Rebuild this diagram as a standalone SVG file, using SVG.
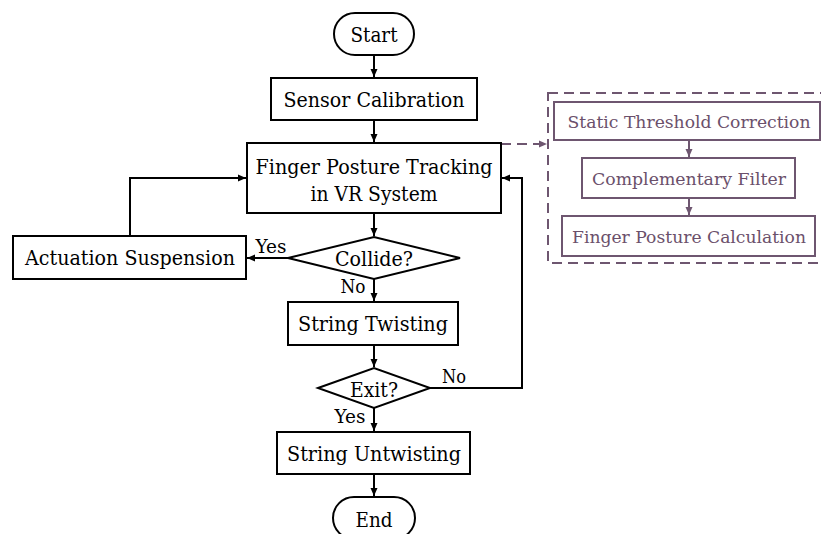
<svg xmlns="http://www.w3.org/2000/svg" width="821" height="534" viewBox="0 0 821 534">
<style>
.b{fill:#fff;stroke:#000;stroke-width:2}
.p{fill:#fff;stroke:#6e5670;stroke-width:2}
.t{font-family:"DejaVu Serif","Liberation Serif",serif;font-size:19.5px;fill:#000;text-anchor:middle}
.l{font-family:"DejaVu Serif","Liberation Serif",serif;font-size:18.5px;fill:#000;text-anchor:middle}
.tp{font-family:"DejaVu Serif","Liberation Serif",serif;font-size:17px;fill:#6b506b;text-anchor:middle}
.c{fill:none;stroke:#000;stroke-width:2}
.cp{fill:none;stroke:#6e5670;stroke-width:2}
</style>
<defs>
<marker id="a" markerUnits="userSpaceOnUse" markerWidth="10" markerHeight="10" refX="9" refY="5" orient="auto"><path d="M1,1.5 L9,5 L1,8.5 Z" fill="#000"/></marker>
<marker id="ap" markerUnits="userSpaceOnUse" markerWidth="10" markerHeight="10" refX="9" refY="5" orient="auto"><path d="M1,1.5 L9,5 L1,8.5 Z" fill="#6e5670"/></marker>
</defs>
<rect width="821" height="534" fill="#fff"/>
<g id="connectors">
<path class="c" d="M374,55 V77" marker-end="url(#a)"/>
<path class="c" d="M374,120 V142" marker-end="url(#a)"/>
<path class="c" d="M374,213 V236" marker-end="url(#a)"/>
<path class="c" d="M288,258 H247" marker-end="url(#a)"/>
<path class="c" d="M130,236 V178 H246" marker-end="url(#a)"/>
<path class="c" d="M374,279 V301" marker-end="url(#a)"/>
<path class="c" d="M374,345 V367" marker-end="url(#a)"/>
<path class="c" d="M430,388 H522 V178 H502" marker-end="url(#a)"/>
<path class="c" d="M374,408 V431" marker-end="url(#a)"/>
<path class="c" d="M374,474 V496" marker-end="url(#a)"/>
<path class="cp" d="M501,144 H547" stroke-dasharray="10,6" marker-end="url(#ap)"/>
<path class="cp" d="M689,140 V157" marker-end="url(#ap)"/>
<path class="cp" d="M689,198 V215" marker-end="url(#ap)"/>
<text class="l" x="271" y="253" textLength="31" lengthAdjust="spacingAndGlyphs">Yes</text>
<text class="l" x="353" y="293" textLength="25" lengthAdjust="spacingAndGlyphs">No</text>
<text class="l" x="454" y="383" textLength="24" lengthAdjust="spacingAndGlyphs">No</text>
<text class="l" x="350" y="423" textLength="31" lengthAdjust="spacingAndGlyphs">Yes</text>
</g>
<g id="start"><rect class="b" x="334" y="13" width="80" height="42" rx="21"/><text class="t" x="374" y="42" textLength="47" lengthAdjust="spacingAndGlyphs">Start</text></g>
<g id="sensor"><rect class="b" x="271" y="78" width="206" height="42"/><text class="t" x="374" y="107" textLength="181" lengthAdjust="spacingAndGlyphs">Sensor Calibration</text></g>
<g id="tracking"><rect class="b" x="247" y="143" width="254" height="70"/><text class="t" x="374" y="174" textLength="237" lengthAdjust="spacingAndGlyphs">Finger Posture Tracking</text><text class="t" x="374" y="201" textLength="127" lengthAdjust="spacingAndGlyphs">in VR System</text></g>
<g id="actuation"><rect class="b" x="13" y="236" width="233" height="43"/><text class="t" x="130" y="265" textLength="210" lengthAdjust="spacingAndGlyphs">Actuation Suspension</text></g>
<g id="collide"><polygon class="b" points="288,258 374,237 460,258 374,279"/><text class="t" x="374" y="266" textLength="78" lengthAdjust="spacingAndGlyphs">Collide?</text></g>
<g id="twisting"><rect class="b" x="288" y="302" width="170" height="43"/><text class="t" x="373" y="331" textLength="150" lengthAdjust="spacingAndGlyphs">String Twisting</text></g>
<g id="exit"><polygon class="b" points="318,388 374,368 430,388 374,408"/><text class="t" x="374" y="397" textLength="48" lengthAdjust="spacingAndGlyphs">Exit?</text></g>
<g id="untwisting"><rect class="b" x="277" y="432" width="193" height="42"/><text class="t" x="374" y="461" textLength="174" lengthAdjust="spacingAndGlyphs">String Untwisting</text></g>
<g id="end"><rect class="b" x="333" y="497" width="82" height="42" rx="21"/><text class="t" x="374" y="527" textLength="37" lengthAdjust="spacingAndGlyphs">End</text></g>
<g id="subprocess">
<rect x="548" y="93" width="282" height="170" fill="none" stroke="#6e5670" stroke-width="2" stroke-dasharray="10,6"/>
<g id="static"><rect class="p" x="554" y="102" width="266" height="38"/><text class="tp" x="689" y="128" textLength="243" lengthAdjust="spacingAndGlyphs">Static Threshold Correction</text></g>
<g id="complementary"><rect class="p" x="582" y="158" width="213" height="40"/><text class="tp" x="689" y="185" textLength="194" lengthAdjust="spacingAndGlyphs">Complementary Filter</text></g>
<g id="calculation"><rect class="p" x="562" y="216" width="253" height="40"/><text class="tp" x="689" y="243" textLength="234" lengthAdjust="spacingAndGlyphs">Finger Posture Calculation</text></g>
</g>
</svg>
